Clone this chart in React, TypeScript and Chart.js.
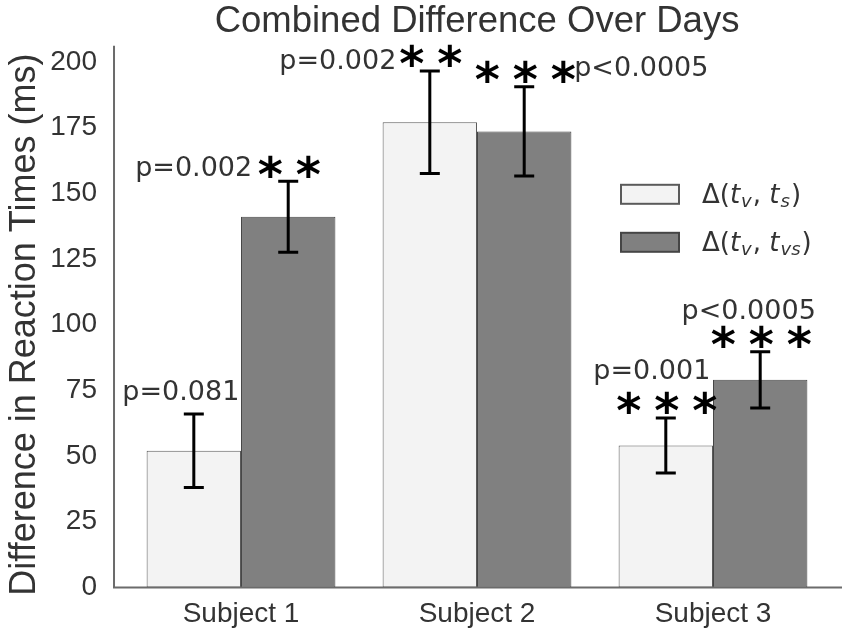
import React, { useEffect, useRef } from "react";
import { Chart, registerables } from "chart.js";

Chart.register(...registerables);

// chart values
const categories = ["Subject 1", "Subject 2", "Subject 3"];
const seriesLabels = ["Δ(t_v, t_s)", "Δ(t_v, t_vs)"];
const meanS = [52, 177, 54];
const errS = [14, 19.5, 10.5];
const meanVS = [141, 173.5, 79];
const errVS = [13.5, 17, 10.7];
const pTextS = ["p=0.081", "p=0.002", "p=0.001"];
const pTextVS = ["p=0.002", "p<0.0005", "p<0.0005"];
const starsS = [0, 2, 3];
const starsVS = [2, 3, 3];
const yMin = 0;
const yMax = 200;
const yStep = 25;

const means = [meanS, meanVS];
const errs = [errS, errVS];
const pTexts = [pTextS, pTextVS];
const stars = [starsS, starsVS];

// where each p-value sits relative to the top of its error bar
const pLayout = [
    [
        { align: "center", dx: -13, dy: -14 },
        { align: "right", dx: -33.5, dy: -2 },
        { align: "center", dx: -14, dy: -39 },
    ],
    [
        { align: "right", dx: -36, dy: -5 },
        { align: "left", dx: 50, dy: -11 },
        { align: "center", dx: -11.5, dy: -33 },
    ],
];

const fills = ["#f3f3f3", "#808080"];
const borders = ["#5a5a5a", "#454545"];
const textColor = "#333333";
const sansFont = "'Liberation Sans', Arial, sans-serif";
const verdanaFont = "'DejaVu Sans', Verdana, sans-serif";

function drawRich(ctx: CanvasRenderingContext2D, text: string, x: number, y: number, size: number) {
    const parts = text.split(/(t_\w+)/);
    let cx = x;
    ctx.textAlign = "left";
    ctx.textBaseline = "alphabetic";
    for (const part of parts) {
        if (!part) continue;
        const m = part.match(/^t_(\w+)$/);
        if (m) {
            ctx.font = `italic ${size}px ${verdanaFont}`;
            ctx.fillText("t", cx, y);
            cx += ctx.measureText("t").width + 1;
            ctx.font = `italic ${Math.round(size * 0.7)}px ${verdanaFont}`;
            ctx.fillText(m[1], cx, y + size * 0.18);
            cx += ctx.measureText(m[1]).width + 1;
        } else {
            ctx.font = `${size}px ${verdanaFont}`;
            ctx.fillText(part, cx, y);
            cx += ctx.measureText(part).width;
        }
    }
}

const axisLines = {
    id: "axisLines",
    afterDatasetsDraw(chart: any) {
        const { ctx, chartArea } = chart;
        ctx.save();
        ctx.strokeStyle = "#6b6b6b";
        ctx.lineWidth = 2;
        ctx.beginPath();
        ctx.moveTo(chartArea.left - 9, chartArea.top - 16);
        ctx.lineTo(chartArea.left - 9, chartArea.bottom);
        ctx.lineTo(chartArea.right + 11, chartArea.bottom);
        ctx.stroke();
        ctx.restore();
    },
};

const errorBars = {
    id: "errorBars",
    afterDatasetsDraw(chart: any) {
        const { ctx } = chart;
        const yScale = chart.scales.y;
        ctx.save();
        means.forEach((series, i) => {
            const meta = chart.getDatasetMeta(i);
            series.forEach((v, j) => {
                const bar = meta.data[j];
                const top = yScale.getPixelForValue(v + errs[i][j]);
                const bot = yScale.getPixelForValue(v - errs[i][j]);
                ctx.strokeStyle = "#000";
                ctx.lineWidth = 3;
                ctx.beginPath();
                ctx.moveTo(bar.x, top);
                ctx.lineTo(bar.x, bot);
                ctx.moveTo(bar.x - 10, top);
                ctx.lineTo(bar.x + 10, top);
                ctx.moveTo(bar.x - 10, bot);
                ctx.lineTo(bar.x + 10, bot);
                ctx.stroke();

                // significance stars
                const n = stars[i][j];
                ctx.fillStyle = "#000";
                ctx.font = `bold 48px ${verdanaFont}`;
                ctx.textAlign = "center";
                ctx.textBaseline = "alphabetic";
                const mt = ctx.measureText("*");
                const mid = (mt.actualBoundingBoxAscent - mt.actualBoundingBoxDescent) / 2;
                for (let k = 0; k < n; k++) {
                    const sx = bar.x + 1 + (k - (n - 1) / 2) * 38;
                    ctx.fillText("*", sx, top - 15 + mid);
                }

                // p-value text
                const lay = pLayout[i][j];
                ctx.fillStyle = textColor;
                ctx.font = `27px ${verdanaFont}`;
                ctx.textAlign = lay.align as CanvasTextAlign;
                ctx.fillText(pTexts[i][j], bar.x + lay.dx, top + lay.dy);
            });
        });
        ctx.restore();
    },
};

const boxLegend = {
    id: "boxLegend",
    afterDraw(chart: any) {
        const { ctx, chartArea } = chart;
        const x0 = chartArea.right - 210;
        const y0 = chartArea.top + 123;
        ctx.save();
        seriesLabels.forEach((label, i) => {
            const by = y0 + i * 48;
            ctx.fillStyle = fills[i];
            ctx.strokeStyle = borders[i];
            ctx.lineWidth = 2;
            ctx.fillRect(x0, by, 58, 19);
            ctx.strokeRect(x0, by, 58, 19);
            ctx.fillStyle = textColor;
            drawRich(ctx, label, x0 + 81, by + 18, 26);
        });
        ctx.restore();
    },
};

export default function App() {
    const canvas = useRef<HTMLCanvasElement>(null);

    useEffect(() => {
        const chart = new Chart(canvas.current!, {
            type: "bar",
            data: {
                labels: categories,
                datasets: means.map((series, i) => ({
                    label: seriesLabels[i],
                    data: series,
                    backgroundColor: fills[i],
                    borderColor: borders[i],
                    borderWidth: 1,
                    borderSkipped: false,
                    categoryPercentage: 0.8,
                    barPercentage: 1.0,
                })),
            },
            options: {
                animation: false,
                responsive: true,
                maintainAspectRatio: false,
                layout: { padding: { left: 0, right: 19, top: 0, bottom: -4 } },
                plugins: {
                    legend: { display: false },
                    tooltip: { enabled: false },
                    title: {
                        display: true,
                        fullSize: false,
                        text: "Combined Difference Over Days",
                        color: textColor,
                        font: { family: sansFont, size: 36.5, weight: "normal" },
                        padding: { top: 0, bottom: 18 },
                    },
                },
                scales: {
                    x: {
                        grid: { display: false, drawTicks: false },
                        border: { display: false },
                        ticks: { color: textColor, font: { family: sansFont, size: 28 }, padding: 10 },
                    },
                    y: {
                        min: yMin,
                        max: yMax,
                        grid: { display: false, drawTicks: false },
                        border: { display: false },
                        ticks: { stepSize: yStep, color: textColor, font: { family: sansFont, size: 28 }, padding: 26 },
                        title: {
                            display: true,
                            text: "Difference in Reaction Times (ms)",
                            color: textColor,
                            font: { family: sansFont, size: 36 },
                            padding: { top: 3.4, bottom: -22.3 },
                        },
                    },
                },
            },
            plugins: [axisLines, errorBars, boxLegend],
        });
        return () => chart.destroy();
    }, []);

    return (
        <div style={{ position: "absolute", left: 0, top: 0, width: 850, height: 637, background: "#fff" }}>
            <canvas ref={canvas}></canvas>
        </div>
    );
}
